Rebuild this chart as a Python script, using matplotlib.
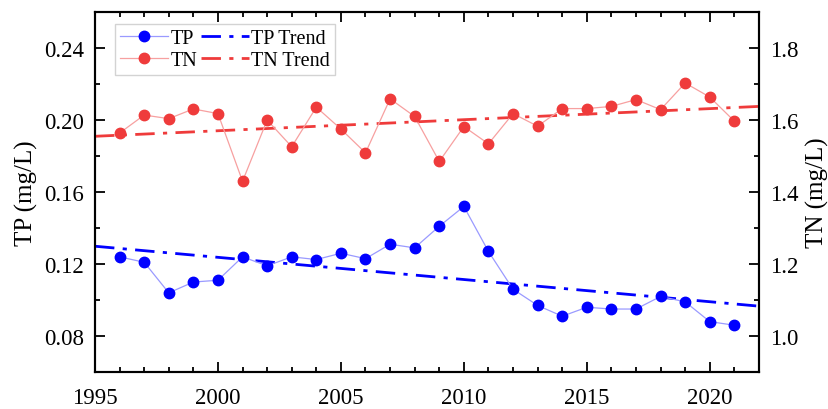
import numpy as np
import matplotlib
matplotlib.use("Agg")
import matplotlib.pyplot as plt
from matplotlib.ticker import MultipleLocator, FormatStrFormatter

plt.rcParams['font.family'] = ['Liberation Serif', 'DejaVu Serif']

years = list(range(1996, 2022))

tp = [0.124, 0.121, 0.104, 0.110, 0.111, 0.124, 0.119, 0.124, 0.1225, 0.126,
      0.123, 0.131, 0.129, 0.141, 0.152, 0.127, 0.106, 0.097, 0.091, 0.096,
      0.095, 0.095, 0.102, 0.099, 0.088, 0.086]

tn = [1.564, 1.614, 1.604, 1.631, 1.618, 1.430, 1.600, 1.526, 1.636, 1.575,
      1.509, 1.659, 1.610, 1.485, 1.582, 1.534, 1.618, 1.583, 1.632, 1.632,
      1.638, 1.657, 1.629, 1.703, 1.664, 1.597]

# trend lines (start / end of the fitted lines)
trend_years = [1995, 2022]
tp_trend = [0.1299, 0.0966]
tn_trend = [1.555, 1.638]

blue = '#0000ff'
red = '#ef3b3b'
dashdot = (0, (7, 3, 1.5, 3))

fig = plt.figure(figsize=(8.29, 4.10), dpi=100)
ax = fig.add_axes([0.1146, 0.0902, 0.8009, 0.8778])
ax2 = ax.twinx()

l1, = ax.plot(years, tp, color='#9a9aff', lw=0.9, marker='o', ms=7.5,
              mfc=blue, mec=blue, zorder=3)
l2, = ax.plot(trend_years, tp_trend, color=blue, lw=2, ls=dashdot)
l3, = ax2.plot(years, tn, color='#f7a0a0', lw=0.9, marker='o', ms=7.5,
               mfc=red, mec=red, zorder=3)
l4, = ax2.plot(trend_years, tn_trend, color=red, lw=2, ls=dashdot)

ax.set_xlim(1995, 2022)
ax.set_ylim(0.06, 0.26)
ax2.set_ylim(0.9, 1.9)

ax.xaxis.set_major_locator(MultipleLocator(5))
ax.xaxis.set_minor_locator(MultipleLocator(1))
ax.yaxis.set_major_locator(MultipleLocator(0.04))
ax.yaxis.set_minor_locator(MultipleLocator(0.02))
ax2.yaxis.set_major_locator(MultipleLocator(0.2))
ax2.yaxis.set_minor_locator(MultipleLocator(0.1))
ax.yaxis.set_major_formatter(FormatStrFormatter('%.2f'))
ax2.yaxis.set_major_formatter(FormatStrFormatter('%.1f'))

for a in (ax, ax2):
    for s in a.spines.values():
        s.set_linewidth(1.5)
    a.tick_params(which='major', length=7, width=1.3)
    a.tick_params(which='minor', length=3.5, width=1.3)
ax.tick_params(axis='x', which='both', direction='in', top=True, labelsize=16.5, pad=11)
ax.tick_params(axis='y', which='both', direction='in', right=False, labelsize=16.5, pad=8)
ax2.tick_params(axis='y', which='both', direction='in', labelsize=16.5, pad=8)

ax.set_ylabel('TP (mg/L)', fontsize=18, labelpad=4)
ax2.set_ylabel('TN (mg/L)', fontsize=18, labelpad=5)

leg = ax.legend([l1, l3, l2, l4], ['TP', 'TN', 'TP Trend', 'TN Trend'],
                ncol=2, loc='upper left', bbox_to_anchor=(0.03, 0.967),
                fontsize=14.5, frameon=True, fancybox=False, handlelength=2.4,
                handletextpad=0.1, columnspacing=0.2, borderpad=0.25,
                labelspacing=0.15, borderaxespad=0)
leg.get_frame().set_edgecolor('#c8c8c8')
leg.get_frame().set_linewidth(1.0)
leg.set_zorder(10)

fig.savefig('out.png', dpi=100)
